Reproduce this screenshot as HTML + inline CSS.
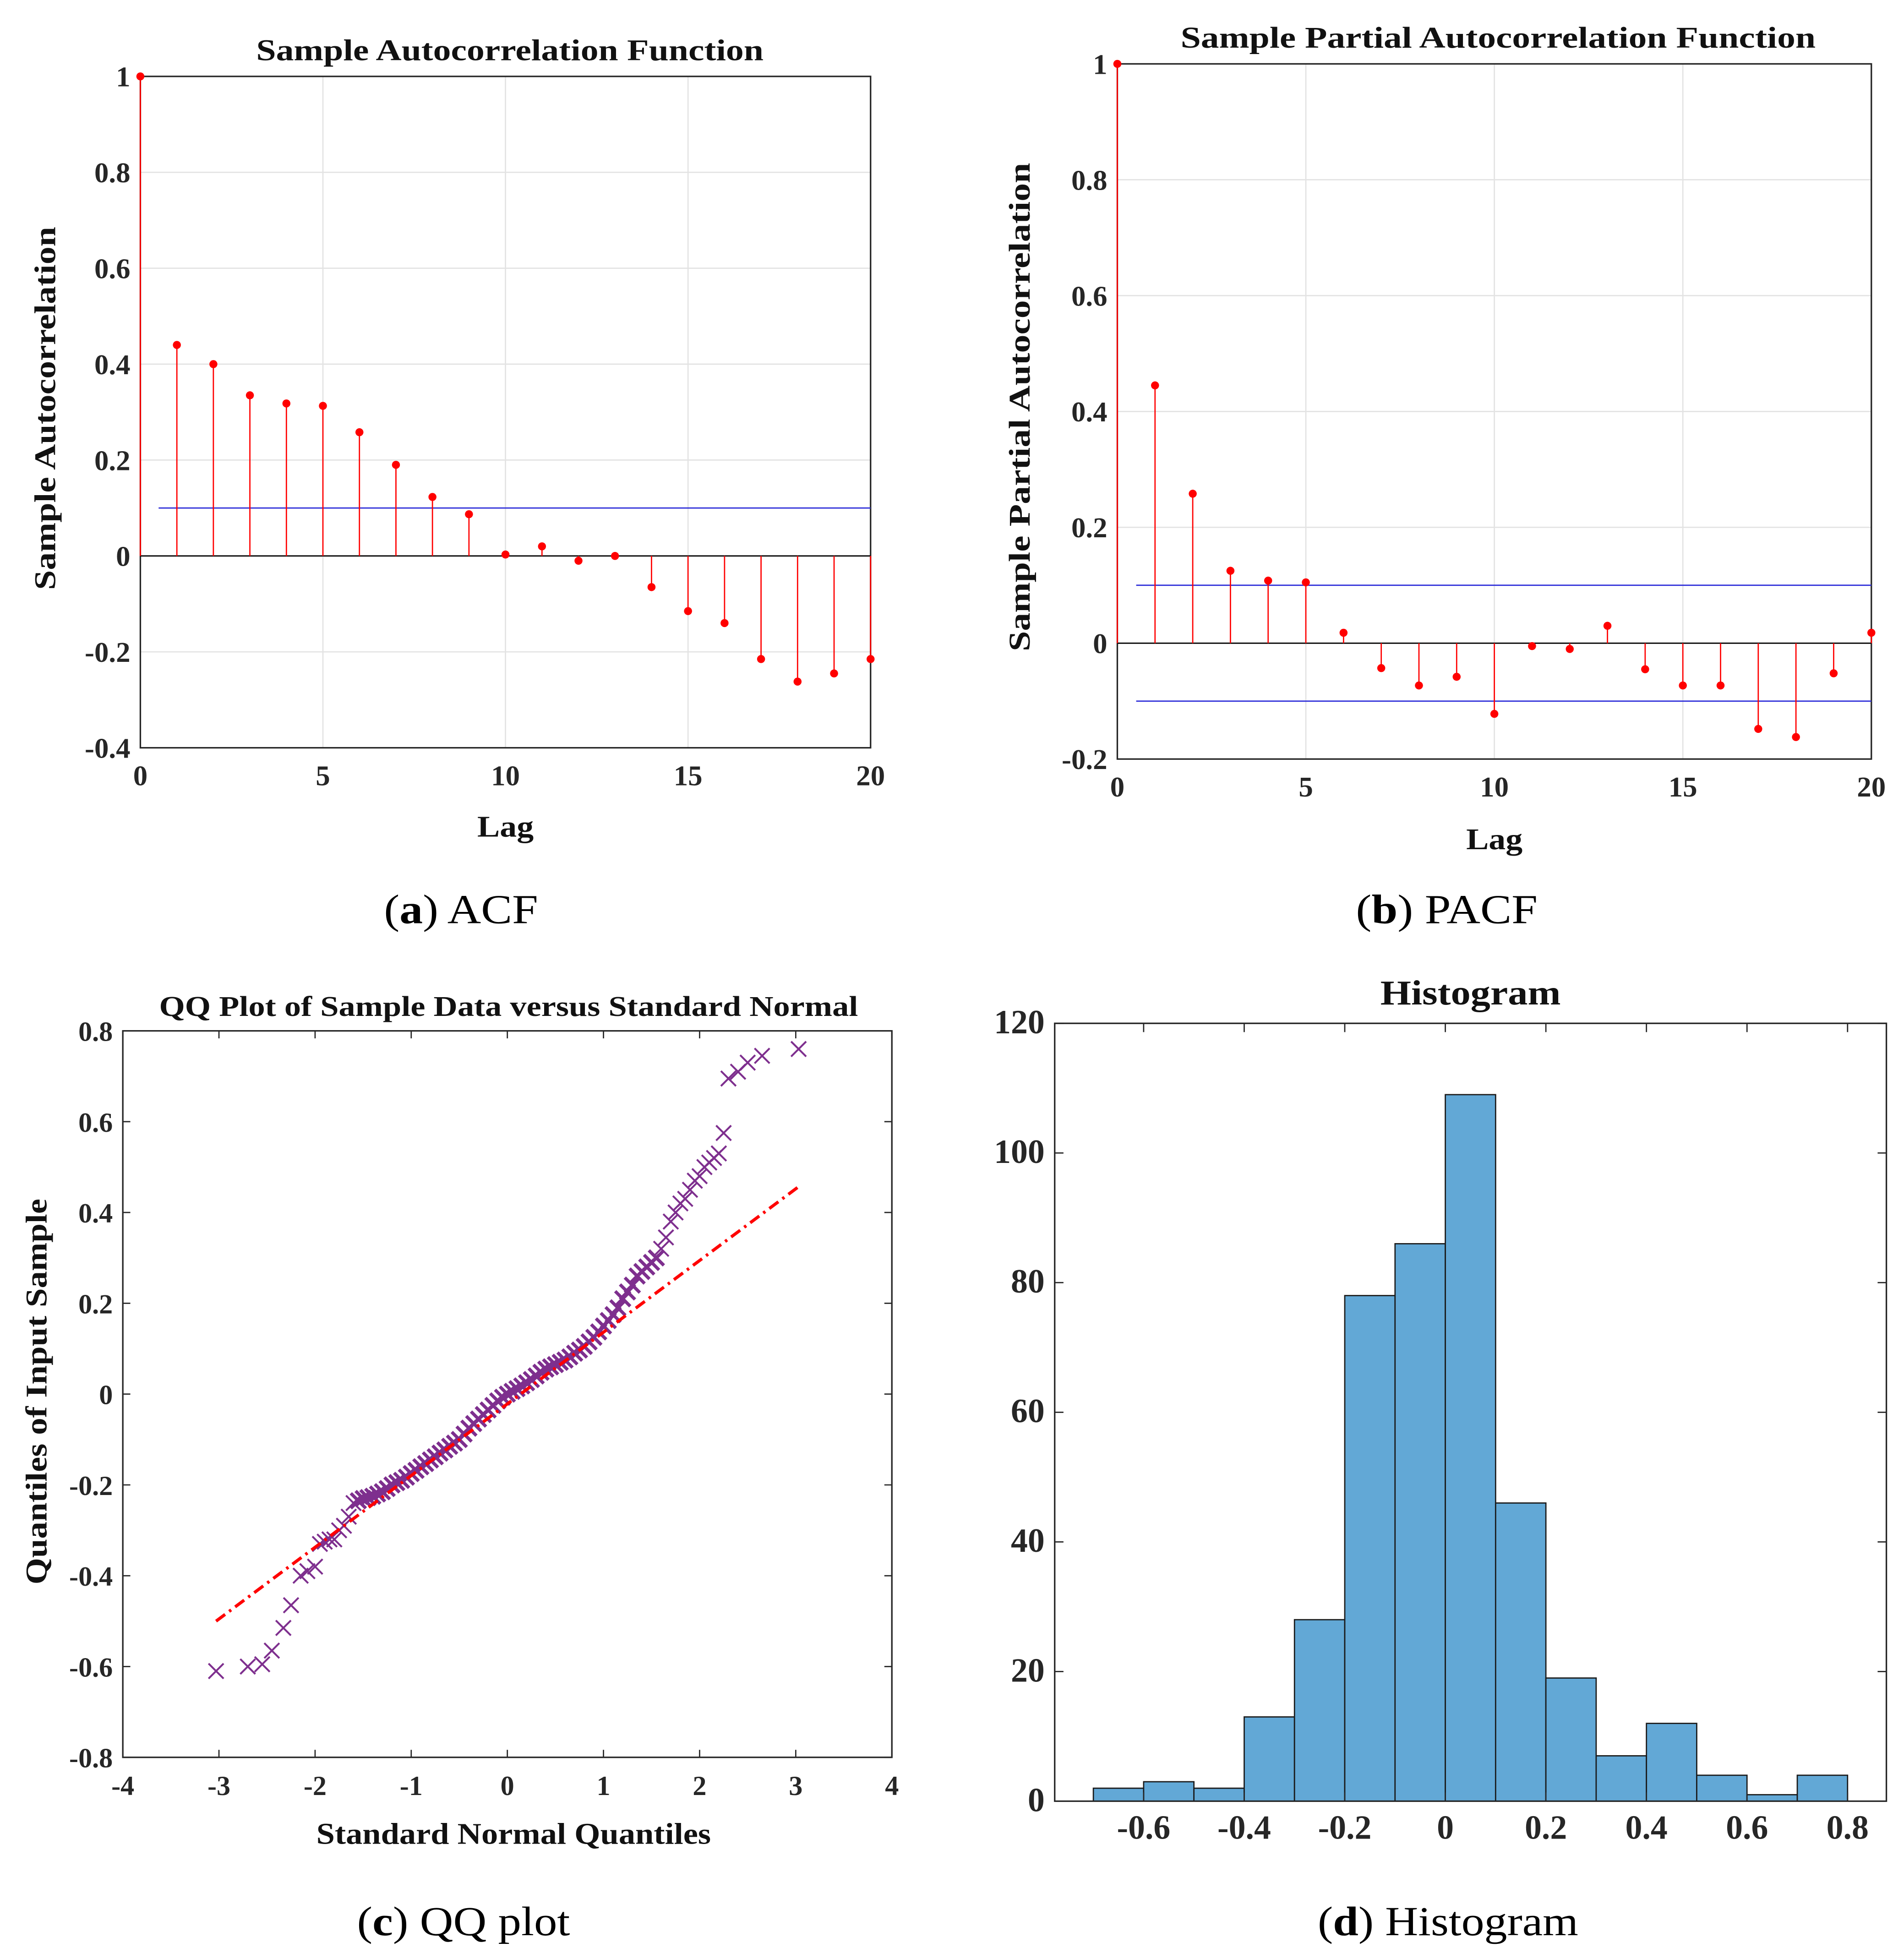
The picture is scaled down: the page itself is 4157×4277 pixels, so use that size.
<!DOCTYPE html>
<html><head><meta charset="utf-8"><style>
html,body{margin:0;padding:0;background:#fff;}
svg{display:block;font-family:"Liberation Serif",serif;}
</style></head><body>
<svg id="s" width="4157" height="4277" viewBox="0 0 1520 1564" xmlns="http://www.w3.org/2000/svg">
<g id="acf"></g>
<g id="pacf"></g>
<g id="qq"></g>
<g id="hist"></g>
<text x="368" y="737" font-size="33" text-anchor="middle" textLength="123" lengthAdjust="spacingAndGlyphs">(<tspan font-weight="bold">a</tspan>) ACF</text>
<text x="1155" y="737" font-size="33" text-anchor="middle" textLength="145" lengthAdjust="spacingAndGlyphs">(<tspan font-weight="bold">b</tspan>) PACF</text>
<text x="370" y="1545" font-size="33" text-anchor="middle" textLength="170" lengthAdjust="spacingAndGlyphs">(<tspan font-weight="bold">c</tspan>) QQ plot</text>
<text x="1156" y="1545" font-size="33" text-anchor="middle" textLength="208" lengthAdjust="spacingAndGlyphs">(<tspan font-weight="bold">d</tspan>) Histogram</text>
</svg>
<script>
const acfValues=[1,0.44,0.40,0.335,0.318,0.313,0.258,0.19,0.123,0.087,0.003,0.02,-0.01,0.0,-0.065,-0.115,-0.14,-0.215,-0.262,-0.245,-0.215];
const acfBound=0.1;
const pacfValues=[1,0.445,0.258,0.125,0.108,0.105,0.018,-0.043,-0.073,-0.058,-0.122,-0.005,-0.01,0.03,-0.045,-0.073,-0.073,-0.148,-0.162,-0.052,0.018];
const pacfBound=0.1;
const lagTicks=[0,5,10,15,20];
const acfYTicks=[-0.4,-0.2,0,0.2,0.4,0.6,0.8,1];
const pacfYTicks=[-0.2,0,0.2,0.4,0.6,0.8,1];
const qqX=[-3.03,-2.7,-2.55,-2.45,-2.33,-2.25,-2.15,-2.08,-2.0,-1.95,-1.9,-1.85,-1.8,-1.75,-1.7,-1.65,-1.6,-1.55,-1.5,-1.45,-1.4,-1.35,-1.3,-1.25,-1.2,-1.15,-1.1,-1.05,-1.0,-0.95,-0.9,-0.85,-0.8,-0.75,-0.7,-0.65,-0.6,-0.55,-0.5,-0.45,-0.4,-0.35,-0.3,-0.25,-0.2,-0.15,-0.1,-0.05,0,0.05,0.1,0.15,0.2,0.25,0.3,0.35,0.4,0.45,0.5,0.55,0.6,0.65,0.7,0.75,0.8,0.85,0.9,0.95,1.0,1.05,1.1,1.15,1.2,1.25,1.3,1.35,1.4,1.45,1.5,1.55,1.6,1.65,1.7,1.75,1.8,1.85,1.9,1.95,2.0,2.05,2.1,2.15,2.2,2.25,2.3,2.4,2.5,2.65,3.03];
const qqY=[-0.61,-0.6,-0.595,-0.565,-0.515,-0.465,-0.4,-0.39,-0.38,-0.33,-0.325,-0.32,-0.32,-0.3,-0.29,-0.27,-0.24,-0.235,-0.23,-0.228,-0.225,-0.22,-0.215,-0.208,-0.2,-0.195,-0.19,-0.183,-0.175,-0.168,-0.16,-0.153,-0.145,-0.138,-0.13,-0.123,-0.115,-0.108,-0.1,-0.088,-0.075,-0.065,-0.055,-0.045,-0.035,-0.025,-0.015,-0.007,0,0.006,0.012,0.018,0.025,0.032,0.04,0.048,0.055,0.06,0.065,0.07,0.075,0.082,0.09,0.097,0.105,0.115,0.125,0.137,0.15,0.162,0.175,0.19,0.21,0.225,0.24,0.26,0.27,0.28,0.29,0.3,0.32,0.345,0.38,0.4,0.42,0.43,0.45,0.47,0.48,0.5,0.51,0.52,0.53,0.575,0.695,0.71,0.73,0.745,0.76];
const qqLineX=[-3.03,3.05];
const qqLineY=[-0.5,0.46];
const qqXTicks=[-4,-3,-2,-1,0,1,2,3,4];
const qqYTicks=[-0.8,-0.6,-0.4,-0.2,0,0.2,0.4,0.6,0.8];
const histEdges=[-0.7,-0.6,-0.5,-0.4,-0.3,-0.2,-0.1,0,0.1,0.2,0.3,0.4,0.5,0.6,0.7,0.8];
const histCounts=[2,3,2,13,28,78,86,109,46,19,7,12,4,1,4];
const histXTicks=[-0.6,-0.4,-0.2,0,0.2,0.4,0.6,0.8];
const histYTicks=[0,20,40,60,80,100,120];

const NS="http://www.w3.org/2000/svg";
function mk(p,t,a){const e=document.createElementNS(NS,t);for(const k in a)e.setAttribute(k,a[k]);p.appendChild(e);return e;}
function fmt(v){return (Math.round(v*10)/10).toString();}
function lin(d0,d1,r0,r1){return v=>r0+(v-d0)*(r1-r0)/(d1-d0);}

function axesBox(g,x0,x1,y0,y1,xs,ys,xt,yt,grid,tickLen,fs){
  if(grid){
    xt.forEach(v=>{const l=mk(g,'line',{x1:xs(v),x2:xs(v),y1:y0,y2:y1,stroke:'#e3e3e3','stroke-width':1});
      
      });
    yt.forEach(v=>{const l=mk(g,'line',{x1:x0,x2:x1,y1:ys(v),y2:ys(v),stroke:'#e3e3e3','stroke-width':1});
      
      });
  }
  xt.forEach(v=>{mk(g,'line',{x1:xs(v),x2:xs(v),y1:y1,y2:y1-tickLen,stroke:'#262626'});mk(g,'line',{x1:xs(v),x2:xs(v),y1:y0,y2:y0+tickLen,stroke:'#262626'});
    const t=mk(g,'text',{x:xs(v),y:y1+30,'font-size':fs,'font-weight':'bold','text-anchor':'middle',fill:'#262626'});t.textContent=fmt(v);
    
    });
  yt.forEach(v=>{mk(g,'line',{x1:x0,x2:x0+tickLen,y1:ys(v),y2:ys(v),stroke:'#262626'});mk(g,'line',{x1:x1,x2:x1-tickLen,y1:ys(v),y2:ys(v),stroke:'#262626'});
    const t=mk(g,'text',{x:x0-8,y:ys(v)+8,'font-size':fs,'font-weight':'bold','text-anchor':'end',fill:'#262626'});t.textContent=fmt(v);
    
    });
  const b=mk(g,'rect',{x:x0,y:y0,width:x1-x0,height:y1-y0,fill:'none',stroke:'#262626','stroke-width':1.2});
  
  
}
function label(g,txt,x,y,size,rot,name,len){
  const t=mk(g,'text',{x:x,y:y,'font-size':size,'font-weight':'bold','text-anchor':'middle',fill:'#111',textLength:len,lengthAdjust:'spacingAndGlyphs'});
  if(rot)t.setAttribute('transform',`rotate(-90 ${x} ${y})`);
  t.textContent=txt;
  
  
}
function stemPanel(id,vals,bound,x0,x1,y0,y1,ymin,ymax,yt,title,titleX,titleY,titleLen,ylab,ylabX,ylabY,ylabLen,lagY,both){
  const g=document.getElementById(id);
  const xs=lin(0,20,x0,x1), ys=lin(ymin,ymax,y1,y0);
  axesBox(g,x0,x1,y0,y1,xs,ys,lagTicks,yt,true,0,23);
  mk(g,'line',{x1:x0,x2:x1,y1:ys(0),y2:ys(0),stroke:'#000','stroke-width':1});
  const bl=mk(g,'line',{x1:xs(0.5),x2:x1,y1:ys(bound),y2:ys(bound),stroke:'#2a2ad8','stroke-width':1});
  
  
  if(both){const b2=mk(g,'line',{x1:xs(0.5),x2:x1,y1:ys(-bound),y2:ys(-bound),stroke:'#2a2ad8','stroke-width':1});
    
    }
  vals.forEach((v,i)=>{
    const s=mk(g,'line',{x1:xs(i),x2:xs(i),y1:ys(0),y2:ys(v),stroke:'#f00','stroke-width':1});
    
    
    const c=mk(g,'circle',{cx:xs(i),cy:ys(v),r:3.2,fill:'#f00'});
    
    
  });
  label(g,title,titleX,titleY,24,false,'chart-title',titleLen);
  label(g,ylab,ylabX,ylabY,24,true,'y-axis-title',ylabLen);
  label(g,'Lag',(x0+x1)/2,lagY,24,false,'x-axis-title',45);
}
stemPanel('acf',acfValues,acfBound,112,695,61,597,-0.4,1,acfYTicks,'Sample Autocorrelation Function',407,48,405,'Sample Autocorrelation',44,326,290,668,false);
stemPanel('pacf',pacfValues,pacfBound,892,1494,51,606,-0.2,1,pacfYTicks,'Sample Partial Autocorrelation Function',1196,38,507,'Sample Partial Autocorrelation',822,325,390,678,true);

(function(){
  const g=document.getElementById('qq');const x0=98,x1=712,y0=823,y1=1403;
  const xs=lin(-4,4,x0,x1), ys=lin(-0.8,0.8,y1,y0);
  axesBox(g,x0,x1,y0,y1,xs,ys,qqXTicks,qqYTicks,false,6,22);
  qqX.forEach((x,i)=>{const cx=xs(x),cy=ys(qqY[i]),d=6;
    const mid=Math.abs(x)<1.6;
    const p=mk(g,'path',{d:`M${cx-d} ${cy-d}L${cx+d} ${cy+d}M${cx-d} ${cy+d}L${cx+d} ${cy-d}`,stroke:'#7e2f8e','stroke-width':mid?2.6:1.5,fill:'none'});
    
    });
  const l=mk(g,'line',{x1:xs(qqLineX[0]),y1:ys(qqLineY[0]),x2:xs(qqLineX[1]),y2:ys(qqLineY[1]),stroke:'#f00','stroke-width':2.5,'stroke-dasharray':'9 4 2 4'});
  
  
  label(g,'QQ Plot of Sample Data versus Standard Normal',406,811,23,false,'chart-title',558);
  label(g,'Standard Normal Quantiles',410,1472,24,false,'x-axis-title',315);
  label(g,'Quantiles of Input Sample',37,1111,24,true,'y-axis-title',308);
})();

(function(){
  const g=document.getElementById('hist');const x0=842,x1=1506,y0=817,y1=1438;
  const xs=lin(-0.6,0.8,913,1475), ys=lin(0,120,y1,y0);
  histCounts.forEach((c,i)=>{const a=xs(histEdges[i]),b=xs(histEdges[i+1]);
    const r=mk(g,'rect',{x:a,y:ys(c),width:b-a,height:ys(0)-ys(c),fill:'#62a8d6',stroke:'#1a1a1a','stroke-width':1});
    
    });
  axesBox(g,x0,x1,y0,y1,xs,ys,histXTicks,histYTicks,false,7,27);
  label(g,'Histogram',1174,802,28,false,'chart-title',144);
})();
</script>
</body></html>
